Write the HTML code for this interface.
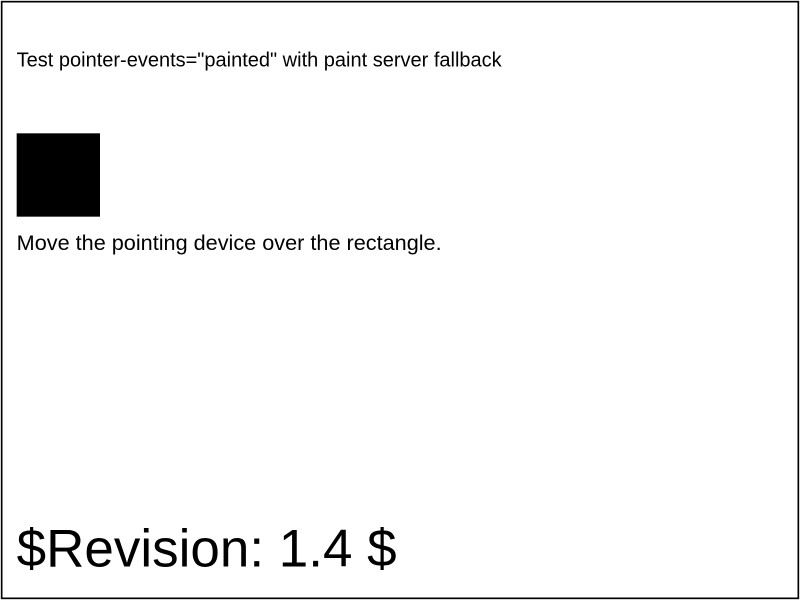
<!DOCTYPE html>
<html><head><style>html,body{margin:0;padding:0;background:#fff}svg{display:block}</style></head>
<body>
<svg width="800" height="600" viewBox="0 0 480 360" xmlns="http://www.w3.org/2000/svg" font-family="Liberation Sans, Arial, sans-serif">
<text x="10" y="40" font-size="12">Test pointer-events="painted" with paint server fallback</text>
<rect x="10" y="80" width="50" height="50" fill="#000"/>
<text x="10" y="150" font-size="13">Move the pointing device over the rectangle.</text>
<text x="10" y="340" font-size="31.8">$Revision: 1.4 $</text>
<rect x="1" y="1" width="478" height="358" fill="none" stroke="#000"/>
</svg>
</body></html>
